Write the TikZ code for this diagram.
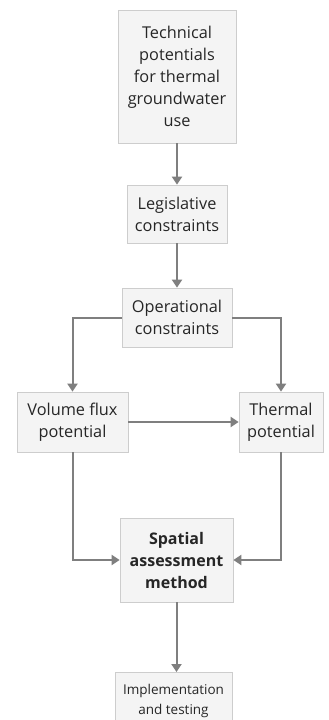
\documentclass[tikz,border=0pt]{standalone}
\usepackage{fontspec}
\setmainfont{Open Sans}
\usetikzlibrary{arrows.meta}
\definecolor{boxfill}{HTML}{F4F4F4}
\definecolor{boxline}{HTML}{CDCDCD}
\definecolor{arrowgray}{HTML}{7F7F7F}
\tikzset{
  flowbox/.style={draw=boxline, fill=boxfill, line width=0.8pt, align=center, inner sep=0pt,
    font=\fontsize{16.3}{22}\selectfont, text=black!85},
  flowarrow/.style={draw=arrowgray, line width=2pt, -{Triangle[width=10pt,length=8pt]}}
}
\begin{document}
\begin{tikzpicture}[x=1pt,y=-1pt]
\useasboundingbox (0,0) rectangle (329,720);
\clip (0,0) rectangle (329,720);
\fill[white] (0,0) rectangle (329,720);
\node[flowbox, minimum width=118pt, minimum height=133pt] (b1) at (177,76.5)
  {Technical\\potentials\\for thermal\\groundwater\\use};
\node[flowbox, minimum width=100pt, minimum height=58pt] (b2) at (177,214)
  {Legislative\\constraints};
\node[flowbox, minimum width=110pt, minimum height=59pt] (b3) at (177,317.5)
  {Operational\\constraints};
\node[flowbox, minimum width=111pt, minimum height=60pt] (b4) at (72.5,422)
  {Volume flux\\potential};
\node[flowbox, minimum width=84pt, minimum height=60pt] (b5) at (281,422)
  {Thermal\\potential};
\node[flowbox, minimum width=113pt, minimum height=84pt, font=\fontsize{16}{22}\selectfont\bfseries] (b6) at (176.5,560)
  {Spatial\\assessment\\method};
\node[flowbox, minimum width=117pt, minimum height=58pt, font=\fontsize{13.5}{20}\selectfont, anchor=north] (b7) at (173.5,672)
  {Implementation\\and testing};
\draw[flowarrow] (b1) -- (b2);
\draw[flowarrow] (b2) -- (b3);
\draw[flowarrow] (b3.west) -| (b4.north);
\draw[flowarrow] (b3.east) -| (b5.north);
\draw[flowarrow] (b4.east) -- (b5.west);
\draw[flowarrow] (b4.south) |- (b6.west);
\draw[flowarrow] (b5.south) |- (b6.east);
\draw[flowarrow] (b6.south) -- (b6.south |- b7.north);
\end{tikzpicture}
\end{document}
